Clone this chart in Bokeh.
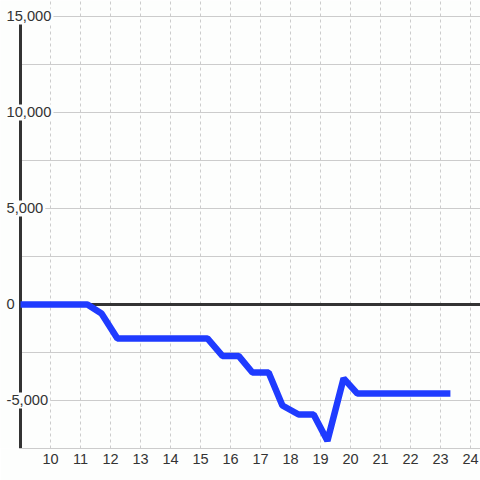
from bokeh.plotting import figure
from bokeh.models import FixedTicker, ColumnDataSource, Range1d
from bokeh.core.properties import value
from bokeh.embed import file_html
from bokeh.resources import INLINE

# data
x_vals = [9, 11.23, 11.7, 12.23, 15.23, 15.73, 16.27, 16.73, 17.27, 17.73, 18.27, 18.77, 19.23, 19.77, 20.23, 23.33]
y_vals = [0, 0, -470, -1770, -1770, -2680, -2680, -3540, -3540, -5260, -5730, -5730, -7100, -3850, -4640, -4640]

x_ticks = list(range(10, 25))
y_grid_ticks = [-7500, -5000, -2500, 2500, 5000, 7500, 10000, 12500, 15000]
y_label_values = [-5000, 0, 5000, 10000, 15000]
y_label_text = ["-5,000", "0", "5,000", "10,000", "15,000"]

X_MIN, X_MAX = 9, 24.333
Y_MIN, Y_MAX = -7500, 15833
Y_TOP_TICK = max(y_grid_ticks)

BG = "#fdfefd"
TXT = "#333333"
GRID = "#cccccc"
FONT = "Liberation Sans"
LABEL_SIZE = 14.7

W, H = 480, 480
LEFT_PAD = 20
BOTTOM = 32
px = (X_MAX - X_MIN) / (W - LEFT_PAD)

p = figure(width=W, height=H, output_backend="svg", toolbar_location=None,
           x_range=Range1d(X_MIN - LEFT_PAD * px, X_MAX), y_range=Range1d(Y_MIN, Y_MAX),
           min_border_left=0, min_border_right=0, min_border_top=0, min_border_bottom=BOTTOM,
           background_fill_color=BG, border_fill_color=BG)
p.outline_line_color = None
p.yaxis.visible = False
p.ygrid.visible = False

# x axis
p.xaxis.ticker = FixedTicker(ticks=x_ticks)
p.xaxis.bounds = (X_MIN, X_MAX)
p.xaxis.axis_line_color = GRID
p.xaxis.axis_line_width = 1
p.xaxis.major_tick_line_color = None
p.xaxis.minor_tick_line_color = None
p.xaxis.major_tick_out = 0
p.xaxis.major_label_standoff = 5
p.xaxis.major_label_text_font = FONT
p.xaxis.major_label_text_font_size = "14.5px"
p.xaxis.major_label_text_color = TXT

p.xgrid.grid_line_color = GRID
p.xgrid.grid_line_dash = "3 3"
p.xgrid.grid_line_width = 1

# horizontal grid lines starting at the value axis
n = len(y_grid_ticks)
p.segment(x0=[X_MIN] * n, x1=[X_MAX] * n, y0=y_grid_ticks, y1=y_grid_ticks,
          line_color=GRID, line_width=1)
# zero line
p.segment(x0=[X_MIN], x1=[X_MAX], y0=[0], y1=[0], line_color=TXT, line_width=3)
# value axis line (up to the top tick)
p.segment(x0=[X_MIN], x1=[X_MIN], y0=[Y_MIN], y1=[Y_TOP_TICK], line_color=TXT, line_width=3)

# masks behind the value labels (approximate text widths in Liberation Sans)
char_w = {"-": 0.333, ",": 0.278}
LABEL_OFF = -14
widths = [sum(char_w.get(c, 0.556) for c in t) * LABEL_SIZE + 4 for t in y_label_text]
centers = [X_MIN + (LABEL_OFF - 2 + w / 2) * px for w in widths]
p.rect(x=centers, y=y_label_values, width=widths, height=[16] * len(widths),
       width_units="screen", height_units="screen", fill_color=BG, line_color=None)

p.line(x_vals, y_vals, line_width=6.5, line_color="#1f3bff", line_join="bevel")

lab_src = ColumnDataSource(dict(x=[X_MIN] * len(y_label_values), y=y_label_values, t=y_label_text))
p.text(x="x", y="y", text="t", source=lab_src, x_offset=LABEL_OFF,
       text_align="left", text_baseline="middle",
       text_font=value(FONT), text_font_size=f"{LABEL_SIZE}px",
       text_color=TXT)

open("out.html", "w").write(file_html(p, INLINE))
